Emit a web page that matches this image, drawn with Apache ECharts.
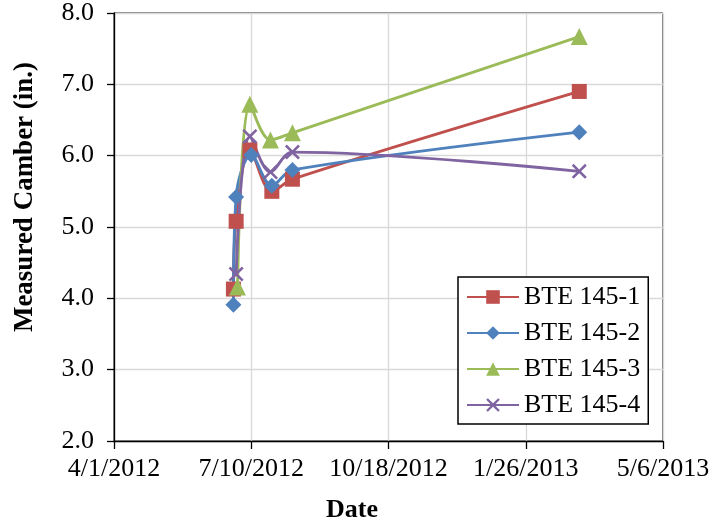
<!DOCTYPE html>
<html>
<head>
<meta charset="utf-8">
<script src="https://cdn.jsdelivr.net/npm/echarts@6/dist/echarts.min.js"></script>
<style>html,body{margin:0;padding:0;background:#fff;}#c{width:713px;height:526px;}</style>
</head>
<body>
<div id="c"></div>
<script>
// ---- data ----
var seriesNames = ['BTE 145-1', 'BTE 145-2', 'BTE 145-3', 'BTE 145-4'];
var dates1 = ['2012-06-27', '2012-06-29', '2012-07-09', '2012-07-25', '2012-08-09', '2013-03-06'];
var values1 = [4.13, 5.08, 6.08, 5.50, 5.67, 6.90];
var dates2 = ['2012-06-27', '2012-06-29', '2012-07-10', '2012-07-25', '2012-08-09', '2013-03-06'];
var values2 = [3.91, 5.42, 6.01, 5.58, 5.80, 6.33];
var dates3 = ['2012-06-30', '2012-07-09', '2012-07-24', '2012-08-09', '2013-03-06'];
var values3 = [4.16, 6.72, 6.22, 6.32, 7.67];
var dates4 = ['2012-06-29', '2012-07-09', '2012-07-24', '2012-08-09', '2013-03-06'];
var values4 = [4.34, 6.27, 5.77, 6.05, 5.78];
var xTickStart = '2012-04-01';
var xTickEnd = '2013-05-06';
var xTickStepDays = 100;
var yMin = 2, yMax = 8, yStep = 1;
var xTitle = 'Date';
var yTitle = 'Measured Camber (in.)';

// ---- helpers ----
var DAY = 86400000;
function utc(s){ var p = s.split('-'); return Date.UTC(+p[0], +p[1]-1, +p[2]); }
var base = utc(xTickStart);
function toDay(s){ return (utc(s) - base) / DAY; }
function pairs(ds, vs){ return ds.map(function(d, i){ return [toDay(d), vs[i]]; }); }
function fmtDate(v){
  var d = new Date(base + Math.round(v) * DAY);
  return (d.getUTCMonth()+1) + '/' + d.getUTCDate() + '/' + d.getUTCFullYear();
}

var FONT = "'Liberation Serif', 'Times New Roman', serif";
var colors = ['#C0504D', '#4F81BD', '#9BBB59', '#8064A2'];
var symbols = ['rect', 'diamond', 'triangle',
  'path://M0,1.2L1.2,0L5,3.8L8.8,0L10,1.2L6.2,5L10,8.8L8.8,10L5,6.2L1.2,10L0,8.8L3.8,5Z'];
var sizes = [15, 16, 17, 15];
var allData = [pairs(dates1, values1), pairs(dates2, values2), pairs(dates3, values3), pairs(dates4, values4)];

var chart = echarts.init(document.getElementById('c'), null, {renderer: 'canvas'});
chart.setOption({
  animation: false,
  backgroundColor: '#fff',
  textStyle: {fontFamily: FONT},
  grid: {left: 114, right: 50, top: 13, bottom: 85, show: true, borderColor: '#000', borderWidth: 1},
  xAxis: {
    type: 'value',
    min: 0,
    max: toDay(xTickEnd),
    interval: xTickStepDays,
    axisLine: {show: true, lineStyle: {color: '#000', width: 1.3}},
    axisTick: {show: true, length: 8, lineStyle: {color: '#000', width: 1.3}},
    axisLabel: {formatter: fmtDate, fontFamily: FONT, fontSize: 26, color: '#000', margin: 15},
    splitLine: {show: true, lineStyle: {color: '#D9D9D9', width: 1.3}}
  },
  yAxis: {
    type: 'value',
    min: yMin, max: yMax, interval: yStep,
    axisLine: {show: true, lineStyle: {color: '#000', width: 1.3}},
    axisTick: {show: true, length: 7, lineStyle: {color: '#000', width: 1.3}},
    axisLabel: {formatter: function(v){ return v.toFixed(1); }, fontFamily: FONT, fontSize: 26, color: '#000', margin: 20},
    splitLine: {show: true, lineStyle: {color: '#D9D9D9', width: 1.3}}
  },
  graphic: [{
    type: 'text', x: 25, y: 197, rotation: Math.PI/2,
    style: {text: yTitle, font: 'bold 27px ' + FONT, fill: '#000', textAlign: 'center', textVerticalAlign: 'middle'}
  }, {
    type: 'text', x: 352, y: 510,
    style: {text: xTitle, font: 'bold 26px ' + FONT, fill: '#000', textAlign: 'center', textVerticalAlign: 'middle'}
  }],
  legend: {
    orient: 'vertical', left: 458, top: 277,
    backgroundColor: '#fff',
    borderColor: '#000', borderWidth: 1.5, borderRadius: 0,
    padding: [7, 8, 6, 8],
    itemWidth: 52, itemHeight: 17, itemGap: 10,
    textStyle: {fontFamily: FONT, fontSize: 26, color: '#000'},
    data: seriesNames
  },
  series: seriesNames.map(function(n, i){
    return {
      name: n, type: 'line', data: allData[i],
      smooth: 0.35,
      symbol: symbols[i], symbolSize: sizes[i],
      lineStyle: {color: colors[i], width: 2.9},
      itemStyle: {color: colors[i]}
    };
  })
});
</script>
</body>
</html>
